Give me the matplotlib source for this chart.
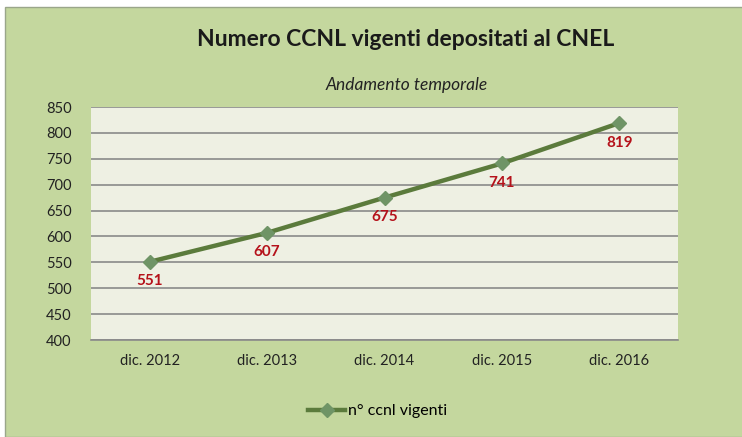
import matplotlib
matplotlib.use("Agg")  # headless
import matplotlib.pyplot as plt
from matplotlib.patches import Rectangle

# data
CATEGORIES = ["dic. 2012", "dic. 2013", "dic. 2014", "dic. 2015", "dic. 2016"]
CCNL_VIGENTI = [551, 607, 675, 741, 819]
Y_TICKS = [400, 450, 500, 550, 600, 650, 700, 750, 800, 850]

W, H = 742, 437
CHART_BG = "#c4d79e"
PLOT_BG = "#eef0e3"
LINE_COLOR = "#5b7b3c"
MARKER_COLOR = "#6f9466"
LABEL_COLOR = "#b5121b"

plt.rcParams["font.family"] = ["Lato", "DejaVu Sans"]


def main() -> None:
    fig = plt.figure(figsize=(W / 100, H / 100), dpi=100, facecolor="white")

    # green chart area (a little offset, like the cropped spreadsheet screenshot)
    fig.patches.append(Rectangle((5 / W, 0), 1, 1 - 7 / H, transform=fig.transFigure,
                                 facecolor=CHART_BG, edgecolor="#9aa68a", linewidth=1.0,
                                 zorder=-10))

    left, right, top, bottom = 91, 678, 107, 340
    ax = fig.add_axes([left / W, 1 - bottom / H, (right - left) / W, (bottom - top) / H])
    ax.set_facecolor(PLOT_BG)

    x = list(range(len(CATEGORIES)))
    ax.plot(x, CCNL_VIGENTI, color=LINE_COLOR, linewidth=3.2, marker="D",
            markersize=7, markerfacecolor=MARKER_COLOR, markeredgecolor=MARKER_COLOR,
            label="n° ccnl vigenti", zorder=3)
    for xi, v in zip(x, CCNL_VIGENTI):
        ax.annotate(str(v), (xi, v), xytext=(0, -9), textcoords="offset points",
                    ha="center", va="top", color=LABEL_COLOR, fontsize=11,
                    fontweight="bold", zorder=4)

    ax.set_xlim(-0.5, len(CATEGORIES) - 0.5)
    ax.set_ylim(Y_TICKS[0], Y_TICKS[-1])
    ax.set_yticks(Y_TICKS)
    ax.set_xticks(x)
    ax.set_xticklabels(CATEGORIES)
    ax.yaxis.grid(True, color="#8a8a8a", linewidth=1.2)
    ax.set_axisbelow(True)
    for s in ax.spines.values():
        s.set_visible(False)
    ax.spines["bottom"].set_visible(True)
    ax.spines["bottom"].set_color("#8a8a8a")
    ax.spines["bottom"].set_linewidth(1.2)
    ax.tick_params(axis="both", length=0, labelsize=10.5, colors="#222222")
    ax.tick_params(axis="y", pad=14)
    ax.tick_params(axis="x", pad=10)

    fig.text(406 / W, 1 - 39 / H, "Numero CCNL vigenti depositati al CNEL",
             ha="center", va="center", fontsize=16.5, fontweight="bold", color="#1a1a1a")
    fig.text(407 / W, 1 - 85 / H, "Andamento temporale", ha="center", va="center",
             fontsize=12.5, style="italic", color="#222222")

    fig.legend(loc="center", bbox_to_anchor=(378 / W, 1 - 411 / H), frameon=False,
               fontsize=11.5, handlelength=2.3, handletextpad=0.2)

    fig.savefig("out.png", dpi=100, facecolor=fig.get_facecolor())
    plt.close(fig)


if __name__ == "__main__":
    main()
